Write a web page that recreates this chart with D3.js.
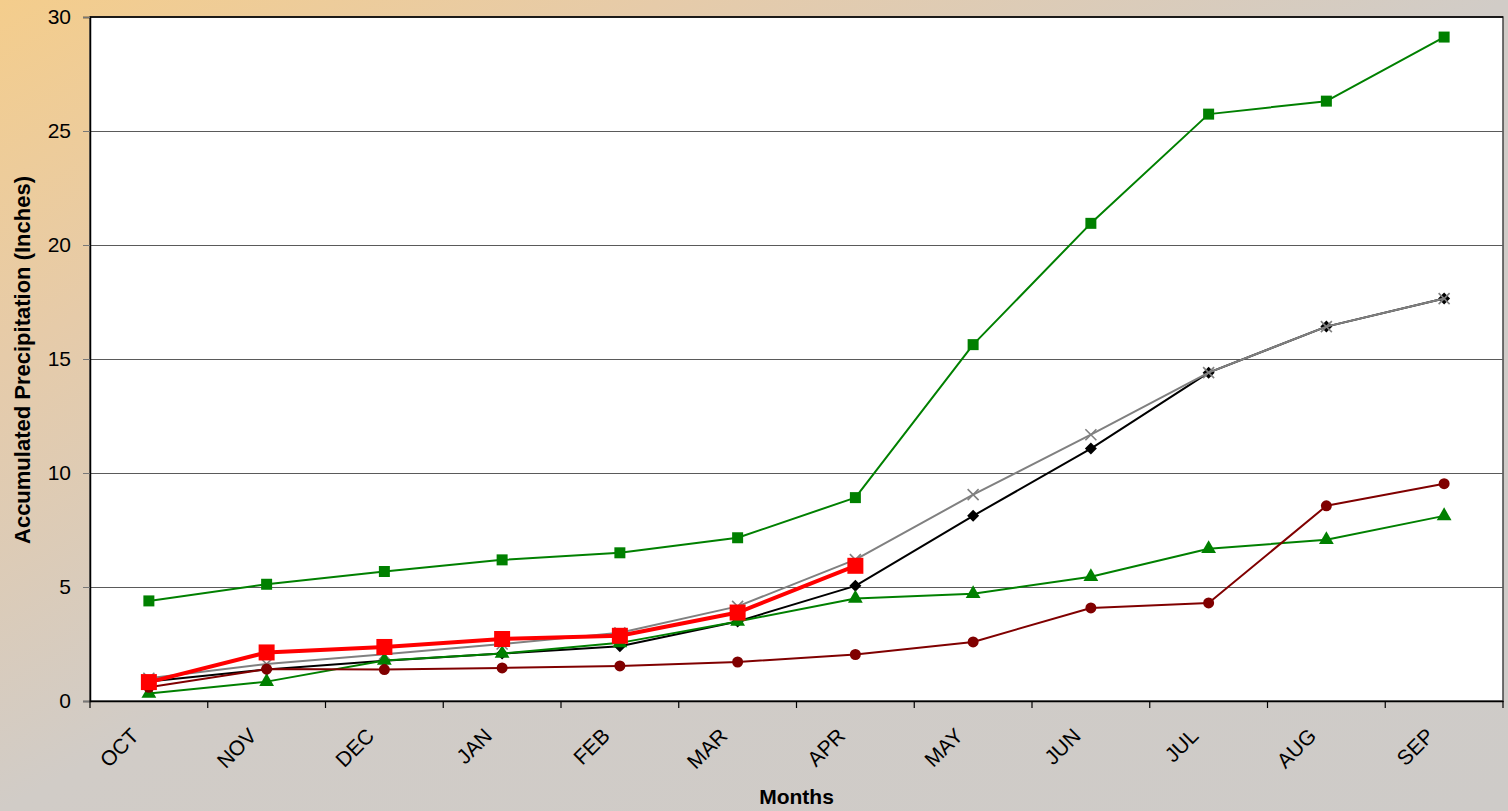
<!DOCTYPE html>
<meta charset="utf-8">
<style>
body { margin: 0; }
svg text { font-family: Arial, "Liberation Sans", sans-serif; }
</style>
<body>
<svg width="1508" height="811"></svg>
</body>
<script src="https://cdn.jsdelivr.net/npm/d3@7"></script>
<script>

// chart data
var months = ["OCT","NOV","DEC","JAN","FEB","MAR","APR","MAY","JUN","JUL","AUG","SEP"];
var maxYear  = [4.39, 5.12, 5.68, 6.19, 6.50, 7.16, 8.92, 15.63, 20.95, 25.74, 26.31, 29.12];
var average  = [1.00, 1.62, 2.05, 2.50, 2.99, 4.15, 6.20, 9.05, 11.68, 14.40, 16.42, 17.65];
var median   = [0.86, 1.38, 1.76, 2.08, 2.40, 3.49, 5.05, 8.12, 11.07, 14.40, 16.42, 17.65];
var wetLow   = [0.33, 0.85, 1.78, 2.08, 2.55, 3.49, 4.50, 4.70, 5.45, 6.68, 7.07, 8.12];
var minYear  = [0.60, 1.40, 1.38, 1.45, 1.54, 1.71, 2.04, 2.59, 4.08, 4.30, 8.56, 9.53];
var current  = [0.83, 2.13, 2.37, 2.72, 2.86, 3.88, 5.93];
var yTicks = [0, 5, 10, 15, 20, 25, 30];

var svg = d3.select("svg"),
    width = +svg.attr("width"),
    height = +svg.attr("height");

var m = {left: 90, top: 17, right: 1503, bottom: 701};

// background gradient
var defs = svg.append("defs");
var grad = defs.append("linearGradient").attr("id", "bg")
    .attr("x1", 0).attr("y1", 0).attr("x2", 1).attr("y2", 1);
grad.append("stop").attr("offset", 0).attr("stop-color", "#f4cd8c");
grad.append("stop").attr("offset", 0.22).attr("stop-color", "#e6cba9");
grad.append("stop").attr("offset", 0.5).attr("stop-color", "#d1ccc7");
grad.append("stop").attr("offset", 1).attr("stop-color", "#cecbc8");
svg.append("rect").attr("width", width).attr("height", height).attr("fill", "url(#bg)");

var x = d3.scaleBand().domain(months).range([m.left, m.right]);
var y = d3.scaleLinear().domain([0, 30]).range([m.bottom, m.top]);

// plot area
svg.append("rect")
    .attr("x", m.left).attr("y", m.top)
    .attr("width", m.right - m.left).attr("height", m.bottom - m.top)
    .attr("fill", "#fff").attr("stroke", "#444").attr("stroke-width", 1.5);
svg.append("line")
    .attr("x1", m.left).attr("x2", m.right).attr("y1", m.top).attr("y2", m.top)
    .attr("stroke", "#000").attr("stroke-width", 1.5);

// gridlines
svg.append("g").selectAll("line")
    .data(yTicks.filter(function(d) { return d > 0 && d < 30; }))
    .enter().append("line")
    .attr("x1", m.left).attr("x2", m.right)
    .attr("y1", function(d) { return Math.round(y(d)) + 0.5; })
    .attr("y2", function(d) { return Math.round(y(d)) + 0.5; })
    .attr("stroke", "#5a5a5a").attr("stroke-width", 1.2);

// y axis
var yAxis = svg.append("g")
    .attr("transform", "translate(" + m.left + ",0)")
    .call(d3.axisLeft(y).tickValues(yTicks).tickSize(7).tickPadding(12));
yAxis.select(".domain").attr("stroke", "#000").attr("stroke-width", 1.5);
yAxis.selectAll(".tick line").attr("stroke", "#777");
yAxis.selectAll("text").attr("font-size", 21).attr("fill", "#000")
    .attr("font-family", "Arial, 'Liberation Sans', sans-serif");

// x axis
var xAxis = svg.append("g")
    .attr("transform", "translate(0," + m.bottom + ")")
    .call(d3.axisBottom(x).tickSize(0).tickFormat(""));
xAxis.select(".domain").attr("stroke", "#000").attr("stroke-width", 1.5);
svg.append("g").selectAll("line")
    .data(months.concat(["end"]))
    .enter().append("line")
    .attr("x1", function(d, i) { return m.left + i * x.step(); })
    .attr("x2", function(d, i) { return m.left + i * x.step(); })
    .attr("y1", m.bottom).attr("y2", m.bottom + 7)
    .attr("stroke", "#000").attr("stroke-width", 1.2);

svg.append("g").selectAll("text")
    .data(months)
    .enter().append("text")
    .attr("transform", function(d) {
        return "translate(" + (x(d) + x.bandwidth() / 2 - 14) + "," + (m.bottom + 31) + ") rotate(-45)";
    })
    .attr("text-anchor", "end")
    .attr("dy", "0.35em")
    .attr("font-size", 21)
    .text(function(d) { return d; });

// axis titles
svg.append("text")
    .attr("x", (m.left + m.right) / 2).attr("y", 804)
    .attr("text-anchor", "middle")
    .attr("font-size", 21).attr("font-weight", "bold")
    .text("Months");
svg.append("text")
    .attr("transform", "translate(30," + 360 + ") rotate(-90)")
    .attr("text-anchor", "middle")
    .attr("font-size", 22).attr("font-weight", "bold")
    .text("Accumulated Precipitation (Inches)");

// series
var cx = function(d, i) { return x(months[i]) + x.bandwidth() / 2; };
var line = d3.line().x(cx).y(function(d) { return y(d); });

function drawSeries(values, color, width, marker) {
    var g = svg.append("g");
    g.append("path").datum(values)
        .attr("d", line).attr("fill", "none")
        .attr("stroke", color).attr("stroke-width", width)
        .attr("stroke-linejoin", "round");
    g.selectAll("path.pt").data(values).enter().append("path")
        .attr("class", "pt")
        .attr("transform", function(d, i) { return "translate(" + cx(d, i) + "," + y(d) + ")"; })
        .attr("d", marker.path)
        .attr("fill", marker.fill ? color : "none")
        .attr("stroke", color)
        .attr("stroke-width", marker.sw || 0);
}

var sq = function(s) { return {path: "M" + (-s/2) + "," + (-s/2) + "h" + s + "v" + s + "h" + (-s) + "Z", fill: true}; };
var diamond = {path: "M0,-6L6,0L0,6L-6,0Z", fill: true};
var tri = {path: d3.symbol().type(d3.symbolTriangle).size(95)(), fill: true};
var circ = {path: d3.symbol().type(d3.symbolCircle).size(95)(), fill: true};
var cross = {path: "M-5.5,-5.5L5.5,5.5M-5.5,5.5L5.5,-5.5", fill: false, sw: 1.6};

drawSeries(maxYear, "#008000", 2, sq(11));
drawSeries(median, "#000000", 2, diamond);
drawSeries(average, "#808080", 2, cross);
drawSeries(wetLow, "#008000", 2, tri);
drawSeries(minYear, "#800000", 2, circ);
drawSeries(current, "#ff0000", 4, sq(16));

</script>
